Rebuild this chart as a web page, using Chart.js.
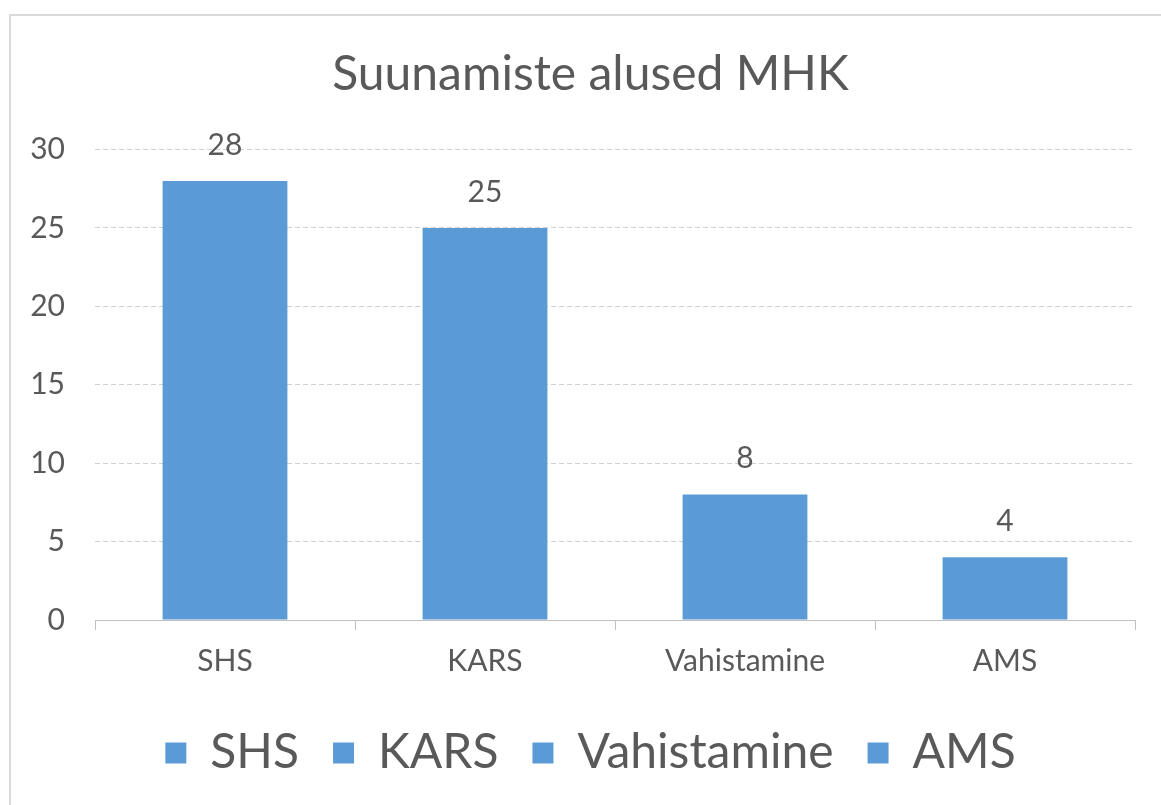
<!DOCTYPE html>
<html>
<head>
<meta charset="utf-8">
<script src="https://cdn.jsdelivr.net/npm/chart.js@4"></script>
<style>
  html, body { margin: 0; padding: 0; background: #fff; overflow: hidden; }
  #wrap { position: relative; width: 1161px; height: 805px; }
  #frame { position: absolute; left: 9px; top: 14px; width: 1200px; height: 900px; border: 2px solid #D9D9D9; box-sizing: border-box; }
  canvas { position: absolute; left: 0; top: 0; }
</style>
</head>
<body>
<div id="wrap">
  <div id="frame"></div>
  <canvas id="c" width="1161" height="805"></canvas>
</div>
<script>
const titleText = "Suunamiste alused MHK";
const categories = ["SHS", "KARS", "Vahistamine", "AMS"];
const values = [28, 25, 8, 4];
const yTicks = [0, 5, 10, 15, 20, 25, 30];

const barColor = "#5B9BD5";
const textColor = "#595959";
const FONT = "Lato, 'Open Sans', sans-serif";

const dataLabels = {
  id: "dataLabels",
  afterDatasetsDraw(chart) {
    const ctx = chart.ctx;
    const meta = chart.getDatasetMeta(0);
    ctx.save();
    ctx.fillStyle = textColor;
    ctx.font = "30px " + FONT;
    ctx.textAlign = "center";
    ctx.textBaseline = "middle";
    meta.data.forEach((bar, i) => {
      ctx.fillText(String(chart.data.datasets[0].data[i]), bar.x, bar.y - 36);
    });
    ctx.restore();
  }
};

new Chart(document.getElementById("c"), {
  type: "bar",
  data: {
    labels: categories,
    datasets: [{
      label: titleText,
      data: values,
      backgroundColor: barColor,
      borderWidth: 0,
      categoryPercentage: 0.96,
      barPercentage: 0.5,
      yAxisID: "y"
    }]
  },
  options: {
    responsive: false,
    animation: false,
    devicePixelRatio: 1,
    layout: { padding: { left: 20, right: 0, top: 0, bottom: 18 } },
    plugins: {
      title: {
        display: true,
        text: titleText,
        color: textColor,
        font: { family: FONT, size: 48, weight: "normal" },
        padding: { top: 46, bottom: 46 }
      },
      legend: {
        display: true,
        position: "bottom",
        labels: {
          color: textColor,
          font: { family: FONT, size: 48 },
          boxWidth: 21,
          boxHeight: 21,
          padding: 34,
          generateLabels() {
            return categories.map((c) => ({
              text: c,
              fillStyle: barColor,
              strokeStyle: barColor,
              lineWidth: 0,
              hidden: false,
              fontColor: textColor
            }));
          }
        },
        onClick() {}
      },
      tooltip: { enabled: false }
    },
    scales: {
      x: {
        grid: { drawOnChartArea: false, drawTicks: true, tickLength: 10, color: "#BFBFBF", offset: true },
        border: { display: true, color: "#BFBFBF", width: 1 },
        ticks: { color: textColor, font: { family: FONT, size: 30 }, padding: 13 },
        afterFit(scale) { scale.height = 75; }
      },
      y: {
        position: "left",
        min: 0,
        max: 30,
        afterBuildTicks(scale) { scale.ticks = yTicks.map((v) => ({ value: v })); },
        grid: { color: "#D0D0D0", drawTicks: false, lineWidth: 1 },
        border: { display: false, dash: [5, 3] },
        ticks: { color: textColor, font: { family: FONT, size: 30 }, padding: 30 },
        afterFit(scale) { scale.width = 75; }
      },
      yRight: {
        type: "linear",
        position: "right",
        display: true,
        min: 0,
        max: 30,
        grid: { display: false, drawOnChartArea: false, drawTicks: false },
        border: { display: false },
        ticks: { display: false },
        afterFit(scale) { scale.width = 26; }
      }
    }
  },
  plugins: [dataLabels]
});
</script>
</body>
</html>
